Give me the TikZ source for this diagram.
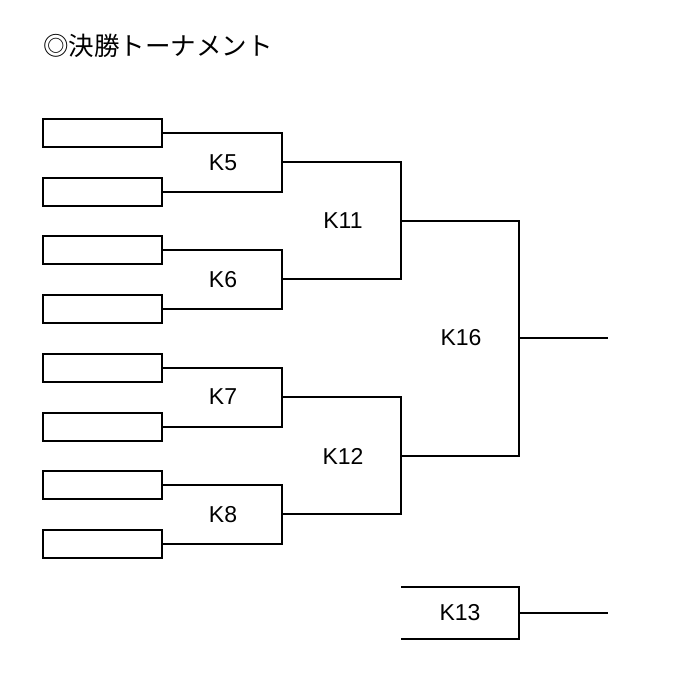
\documentclass[tikz,border=0pt]{standalone}
\usepackage{fontspec}
\setmainfont{Liberation Sans}
\newfontfamily\jpfont{Noto Sans CJK JP}
\begin{document}
\begin{tikzpicture}[x=1pt,y=-1pt,
  line width=2pt,
  slot/.style={draw, line width=2pt, rectangle, minimum width=119pt, minimum height=28pt, inner sep=0pt},
  lbl/.style={font=\fontsize{23}{23}\selectfont, inner sep=0pt},
  bracket/.style={draw, line width=2pt}]
\useasboundingbox (0,0) rectangle (700,684);
\node[anchor=west, inner sep=0pt, font=\jpfont\fontsize{25.5}{25.5}\selectfont] (title) at (42,46) {◎決勝トーナメント};
% slots
\node[slot] (b1) at (102.5,133) {};
\node[slot] (b2) at (102.5,192) {};
\node[slot] (b3) at (102.5,250) {};
\node[slot] (b4) at (102.5,309) {};
\node[slot] (b5) at (102.5,368) {};
\node[slot] (b6) at (102.5,427) {};
\node[slot] (b7) at (102.5,485) {};
\node[slot] (b8) at (102.5,544) {};
% junctions
\coordinate (m5) at (282,162);
\coordinate (m6) at (282,279);
\coordinate (m7) at (282,397);
\coordinate (m8) at (282,514);
\coordinate (m11) at (401,221);
\coordinate (m12) at (401,456);
\coordinate (m16) at (519,338);
\coordinate (o16) at (608,338);
\coordinate (t13) at (401,587);
\coordinate (m13) at (519,613);
\coordinate (u13) at (401,639);
\coordinate (o13) at (608,613);
% brackets
\draw[bracket] (b1.east) -| (m5) |- (b2.east);
\draw[bracket] (b3.east) -| (m6) |- (b4.east);
\draw[bracket] (b5.east) -| (m7) |- (b6.east);
\draw[bracket] (b7.east) -| (m8) |- (b8.east);
\draw[bracket] (m5) -| (m11) |- (m6);
\draw[bracket] (m7) -| (m12) |- (m8);
\draw[bracket] (m11) -| (m16) |- (m12);
\draw[bracket] (m16) -- (o16);
\draw[bracket] (t13) -| (m13) |- (u13);
\draw[bracket] (m13) -- (o13);
% labels
\node[lbl] (k5) at (223,163) {K5};
\node[lbl] (k6) at (223,280) {K6};
\node[lbl] (k7) at (223,397) {K7};
\node[lbl] (k8) at (223,515) {K8};
\node[lbl] (k11) at (343,221) {K11};
\node[lbl] (k12) at (343,456) {K12};
\node[lbl] (k16) at (461,338) {K16};
\node[lbl] (k13) at (460,613) {K13};
\end{tikzpicture}
\end{document}
